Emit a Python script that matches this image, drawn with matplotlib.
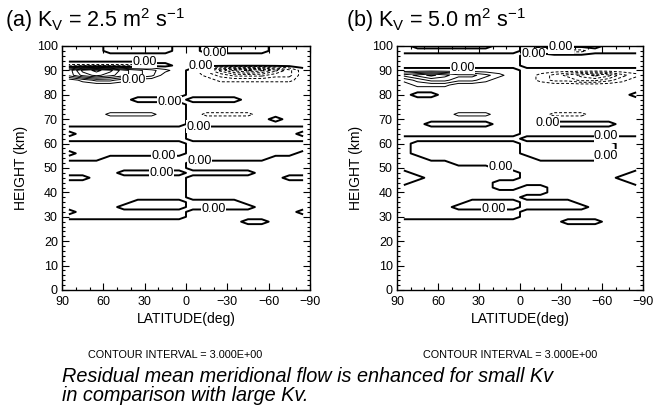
import numpy as np
import matplotlib
matplotlib.use('Agg')
import matplotlib.pyplot as plt
from matplotlib.ticker import MultipleLocator

plt.rcParams['font.family'] = ['Liberation Sans', 'DejaVu Sans']
plt.rcParams['mathtext.fontset'] = 'custom'
plt.rcParams['mathtext.rm'] = 'Liberation Sans'
plt.rcParams['mathtext.it'] = 'Liberation Sans:italic'
# contour lines run back over themselves along the equator; keep every vertex
plt.rcParams['path.simplify'] = False

# latitude columns (deg) and height rows (km, top to bottom) of the gridded field
lats = [85, 75, 65, 55, 45, 35, 25, 15, 5, -5, -15, -25, -35, -45, -55, -65, -75, -85]
heights = list(range(100, -1, -2))

# field, one character per grid cell:
# '+' / '-' weak positive / negative, '1'..'9' positive with that many contours,
# 'a'..'i' negative with 1..9 dashed contours
field_a = [
    "+++-----+ +-----+++",  # 100
    "+++-----+ +-----+++",  # 98
    "+++++++++ +++++++++",  # 96
    "+++++++++ +++++++++",  # 94
    "aaaaaa--+ +++++++++",  # 92
    "36764321+ -bdfgfdb-",  # 90
    "3565432++ -abcccbb-",  # 88
    "+1221++++ --aaaaaa-",  # 86
    "+++++++++ ---------",  # 84
    "+++++++++ ---------",  # 82
    "+++++++++ ---------",  # 80
    "+++++---- ++++-----",  # 78
    "+++++++++ ---------",  # 76
    "+++++++++ ---------",  # 74
    "+++1111++ -aaaa----",  # 72
    "+++++++++ ------+--",  # 70
    "+++++++++ ---------",  # 68
    "--------- +++++++++",  # 66
    "+-------- ++++++++-",  # 64
    "--------- +++++++++",  # 62
    "+++++++++ ---------",  # 60
    "+++++++++ ---------",  # 58
    "-++++++++ --------+",  # 56
    "+++------ ------+++",  # 54
    "--------- +++++++++",  # 52
    "--------- +++++++++",  # 50
    "----+++++ -----++++",  # 48
    "++------- +++++++--",  # 46
    "--------- +++++++++",  # 44
    "--------- +++++++++",  # 42
    "--------- +++++++++",  # 40
    "--------- +++++++++",  # 38
    "-----++++ ----+++++",  # 36
    "----+++++ -----++++",  # 34
    "+-------- ++++++++-",  # 32
    "--------- +++++++++",  # 30
    "+++++++++ ++++--+++",  # 28
    "+++++++++ +++++++++",  # 26
    "+++++++++ +++++++++",  # 24
    "+++++++++ +++++++++",  # 22
    "+++++++++ +++++++++",  # 20
    "+++++++++ +++++++++",  # 18
    "+++++++++ +++++++++",  # 16
    "+++++++++ +++++++++",  # 14
    "+++++++++ +++++++++",  # 12
    "+++++++++ +++++++++",  # 10
    "+++++++++ +++++++++",  # 8
    "+++++++++ +++++++++",  # 6
    "+++++++++ +++++++++",  # 4
    "+++++++++ +++++++++",  # 2
    "+++++++++ +++++++++",  # 0
]

field_b = [
    "+------++ -+++++---",  # 100
    "+++++++++ --aaa----",  # 98
    "--------- +++++++++",  # 96
    "--------- +++++++++",  # 94
    "--------- +++++++++",  # 92
    "+++++++++ ---------",  # 90
    "34543321+ -abcdedba",  # 88
    "1233221++ -abbccba-",  # 86
    "+111+++++ ---------",  # 84
    "+++++++++ ---------",  # 82
    "+--++++++ --------+",  # 80
    "+++++++++ ---------",  # 78
    "+++++++++ ---------",  # 76
    "+++++++++ ---------",  # 74
    "++++111++ --aaa----",  # 72
    "+++++++++ ---------",  # 70
    "++-----++ --+++++--",  # 68
    "+++++++++ ---------",  # 66
    "+++++++++ ---------",  # 64
    "--------- +++++++++",  # 62
    "-++++++++ -------++",  # 60
    "-++++++++ -------++",  # 58
    "-++++++++ -------++",  # 56
    "--+++++++ +------++",  # 54
    "----+++++ +++++++++",  # 52
    "-------++ +++++++++",  # 50
    "+-------- ++++++++-",  # 48
    "++------- +++++++--",  # 46
    "+------++ ++++++++-",  # 44
    "-------++ --+++++++",  # 42
    "--------- --+++++++",  # 40
    "--------- +++++++++",  # 38
    "-----++++ ----+++++",  # 36
    "----+++++ -----++++",  # 34
    "--------- +++++++++",  # 32
    "--------- +++++++++",  # 30
    "+++++++++ +++---+++",  # 28
    "+++++++++ +++++++++",  # 26
    "+++++++++ +++++++++",  # 24
    "+++++++++ +++++++++",  # 22
    "+++++++++ +++++++++",  # 20
    "+++++++++ +++++++++",  # 18
    "+++++++++ +++++++++",  # 16
    "+++++++++ +++++++++",  # 14
    "+++++++++ +++++++++",  # 12
    "+++++++++ +++++++++",  # 10
    "+++++++++ +++++++++",  # 8
    "+++++++++ +++++++++",  # 6
    "+++++++++ +++++++++",  # 4
    "+++++++++ +++++++++",  # 2
    "+++++++++ +++++++++",  # 0
]

titles = [r'(a) K$_\mathrm{V}$ = 2.5 m$^2$ s$^{-1}$',
          r'(b) K$_\mathrm{V}$ = 5.0 m$^2$ s$^{-1}$']
xticks = [90, 60, 30, 0, -30, -60, -90]
interval = 3.0
caption = ['Residual mean meridional flow is enhanced for small Kv',
           'in comparison with large Kv.']

# where the zero-line labels sit (lat, km)
labels_a = [(-21, 97), (-11, 91.6), (30, 93.4), (38, 86), (12, 77), (-9, 67),
            (16, 55), (-10, 53), (18, 48), (-20, 33)]
labels_b = [(-30, 99.4), (-10, 96.6), (42, 91), (-20, 68.5), (-63, 63),
            (-63, 55), (14, 50.5), (19, 33)]

code = {'+': 1.0, '-': -1.0}
for d in range(1, 10):
    code[str(d)] = 3 * d + 1.0
for i, ch in enumerate('abcdefghi'):
    code[ch] = -(3 * (i + 1) + 1.0)


def to_grid(rows):
    g = np.array([[code[c] for c in r.replace(' ', '')] for r in rows])
    # ascending heights and latitudes
    return g[::-1, ::-1]


fig = plt.figure(figsize=(6.62, 4.05), dpi=100)
axes = [fig.add_axes([62 / 662, 115 / 405, 248 / 662, 244 / 405]),
        fig.add_axes([397 / 662, 115 / 405, 246 / 662, 244 / 405])]

for ax, rows, title, labs, tx in zip(axes, [field_a, field_b], titles,
                                     [labels_a, labels_b], [5, 346]):
    z = to_grid(rows)
    X, Y = np.meshgrid(lats[::-1], heights[::-1])
    pos = np.arange(interval, 40, interval)
    ax.contour(X, Y, z, levels=pos, colors='k', linewidths=0.7)
    ax.contour(X, Y, z, levels=-pos[::-1], colors='k', linewidths=0.7,
               linestyles=[(0, (3, 2))])
    ax.contour(X, Y, z, levels=[0], colors='k', linewidths=1.4)
    for lx, ly in labs:
        ax.text(lx, ly, '%.2f' % 0.0, fontsize=9, ha='center', va='center',
                zorder=4,
                bbox=dict(facecolor='white', edgecolor='none', pad=0.3))

    ax.set_xlim(90, -90)
    ax.set_ylim(0, 100)
    ax.set_xticks(xticks)
    ax.xaxis.set_minor_locator(MultipleLocator(10))
    ax.set_yticks(range(0, 101, 10))
    ax.yaxis.set_minor_locator(MultipleLocator(2))
    ax.tick_params(which='both', direction='in', top=True, right=True,
                   labelsize=9, width=0.8)
    ax.tick_params(which='major', length=5)
    ax.tick_params(axis='x', which='major', pad=4)
    ax.tick_params(axis='y', which='major', pad=3)
    ax.tick_params(which='minor', length=2.5)
    for s in ax.spines.values():
        s.set_linewidth(1.0)
    ax.set_xlabel('LATITUDE(deg)', fontsize=10, labelpad=3)
    ax.set_ylabel('HEIGHT (km)', fontsize=10, labelpad=6)

    fig.text(tx / 662, 1 - 27 / 405, title, fontsize=15.5, va='baseline')
    box = ax.get_position()
    fig.text(box.x0 + 0.04, 1 - 358 / 405,
             'CONTOUR INTERVAL = %.3fE+00' % interval, fontsize=7.8,
             va='baseline')

fig.text(62 / 662, 1 - 382 / 405, caption[0], fontsize=14.3, style='italic',
         va='baseline')
fig.text(62 / 662, 1 - 401 / 405, caption[1], fontsize=14.3, style='italic',
         va='baseline')

fig.savefig('out.png', dpi=100)
